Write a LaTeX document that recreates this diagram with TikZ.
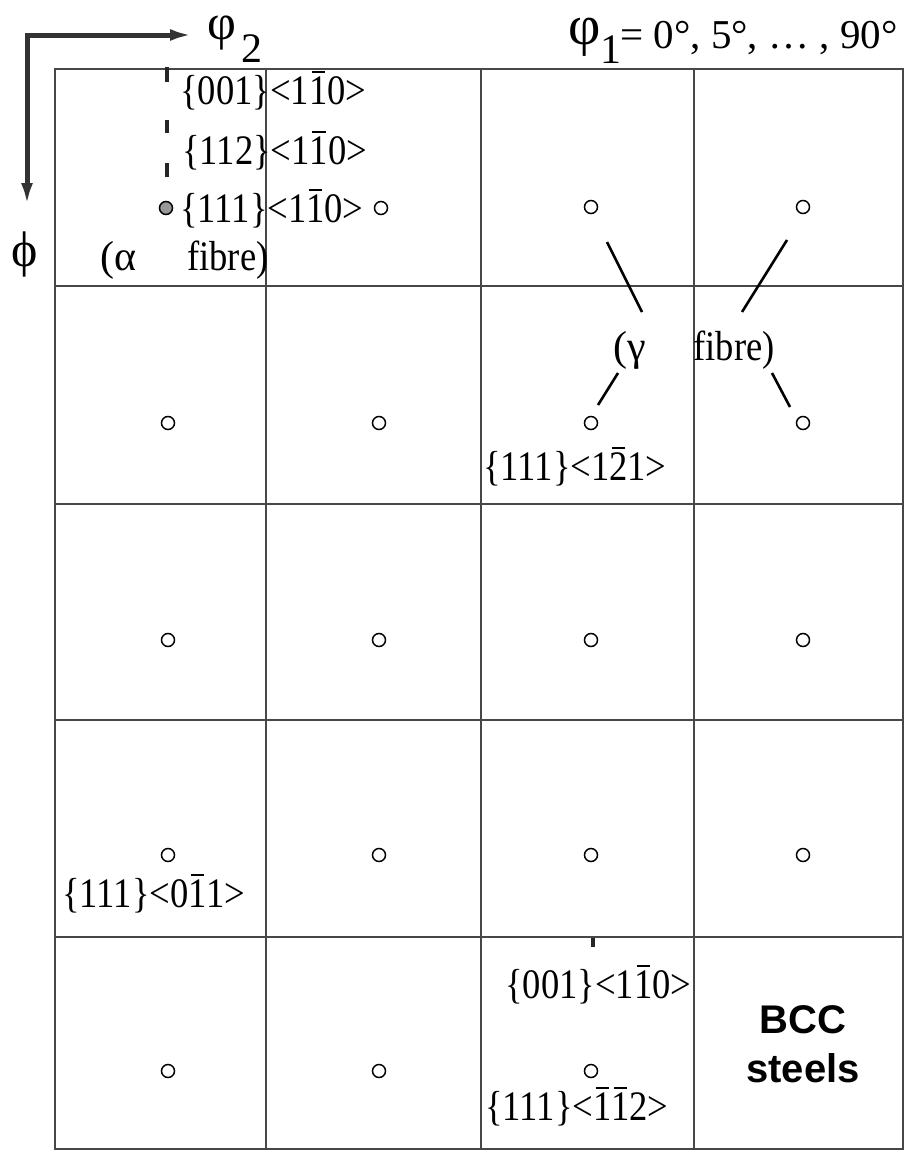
\documentclass[tikz,border=0pt]{standalone}
\usepackage{fontspec}
\setmainfont{Liberation Serif}
\newfontfamily\labfont[FakeStretch=0.87]{Liberation Serif}
\newfontfamily\bccfont{Liberation Sans}
\usetikzlibrary{arrows.meta}
\newcommand\ob[1]{\ooalign{#1\cr\hidewidth\rule[0.74em]{0.32em}{0.05em}\hidewidth\cr}}
\tikzset{
 lab/.style={anchor=base west, inner sep=0pt, font=\labfont\fontsize{21}{25}\selectfont},
 dot/.style={circle, draw, line width=0.75pt, minimum size=6.5pt, inner sep=0pt},
 gridline/.style={draw=black!72, line width=1pt},
 fibreline/.style={line width=1.3pt},
 axisline/.style={draw=black!80, line width=2.5pt, line cap=rect, -{Latex[length=11pt,width=6pt]}},
 dashseg/.style={line width=1.6pt, draw=black!85},
}
\begin{document}
\begin{tikzpicture}[x=0.5pt,y=-0.5pt]
\useasboundingbox (0,0) rectangle (906,1151);
% grid
\draw[gridline] (55,69) rectangle (903,1149);
\foreach \xx in {266,481,694} \draw[gridline] (\xx,69) -- (\xx,1149);
\foreach \yy in {286,504,720,937} \draw[gridline] (55,\yy) -- (903,\yy);
% axes
\coordinate (o) at (27,35);
\coordinate (xe) at (192,35);
\coordinate (ye) at (27,205);
\draw[axisline] (o) -- (xe);
\draw[axisline] (o) -- (ye);
\node[inner sep=0pt, font=\fontsize{25}{29}\selectfont] (phi2) at (222,33) {φ};
\node[inner sep=0pt, anchor=base, font=\fontsize{21}{25}\selectfont] (phi2s) at (252,62) {2};
\node[inner sep=0pt, font=\fontsize{25}{29}\selectfont] (phi) at (25,254) {ϕ};
\node[inner sep=0pt, font=\fontsize{28}{32}\selectfont] (phi1) at (585,37) {φ};
\node[inner sep=0pt, anchor=base, font=\fontsize{21}{25}\selectfont] (phi1s) at (611,63) {1};
\node[inner sep=0pt, anchor=base east, font=\fontsize{20.5}{24}\selectfont] (range) at (898,48) {= 0°, 5°, … , 90°};
% dashed alpha line
\coordinate (d1a) at (167,67); \coordinate (d1b) at (167,82);
\coordinate (d2a) at (167,120); \coordinate (d2b) at (167,133);
\coordinate (d3a) at (167,163); \coordinate (d3b) at (167,177);
\draw[dashseg] (d1a) -- (d1b);
\draw[dashseg] (d2a) -- (d2b);
\draw[dashseg] (d3a) -- (d3b);
\coordinate (m1) at (593,938); \coordinate (m2) at (593,947);
\draw[dashseg] (m1) -- (m2);
% circles
\node[dot, fill=black!40] (c11) at (166,208) {};
\node[dot] (c12) at (381,208) {};
\node[dot] (c13) at (591,207) {};
\node[dot] (c14) at (803,207) {};
\node[dot] (c21) at (168,423) {};
\node[dot] (c22) at (379,423) {};
\node[dot] (c23) at (591,423) {};
\node[dot] (c24) at (803,423) {};
\node[dot] (c31) at (168,640) {};
\node[dot] (c32) at (379,640) {};
\node[dot] (c33) at (591,640) {};
\node[dot] (c34) at (803,640) {};
\node[dot] (c41) at (168,855) {};
\node[dot] (c42) at (379,855) {};
\node[dot] (c43) at (591,855) {};
\node[dot] (c44) at (803,855) {};
\node[dot] (c51) at (168,1071) {};
\node[dot] (c52) at (379,1071) {};
\node[dot] (c53) at (591,1071) {};
% labels
\node[lab] (l1) at (180,104) {\{001\}<1\ob{1}0>};
\node[lab] (l2) at (182,164) {\{112\}<1\ob{1}0>};
\node[lab] (l3) at (180,222) {\{111\}<1\ob{1}0>};
\node[lab, font=\fontsize{21}{25}\selectfont] (a1) at (100,270) {(α};
\node[lab] (a2) at (187,270) {fibre)};
\node[lab, font=\fontsize{21}{25}\selectfont] (g1) at (613,360) {(γ};
\node[lab] (g2) at (693,360) {fibre)};
\node[lab] (l4) at (483,480) {\{111\}<1\ob{2}1>};
\node[lab] (l5) at (62,907) {\{111\}<0\ob{1}1>};
\node[lab] (l6) at (505,998) {\{001\}<1\ob{1}0>};
\node[lab] (l7) at (485,1120) {\{111\}<\ob{1}\ob{1}2>};
% gamma fibre lines
\coordinate (ga1) at (607,242); \coordinate (ga2) at (642,312);
\coordinate (gb1) at (787,240); \coordinate (gb2) at (742,312);
\coordinate (gc1) at (618,373); \coordinate (gc2) at (598,405);
\coordinate (gd1) at (772,373); \coordinate (gd2) at (790,407);
\draw[fibreline] (ga1) -- (ga2);
\draw[fibreline] (gb1) -- (gb2);
\draw[fibreline] (gc1) -- (gc2);
\draw[fibreline] (gd1) -- (gd2);
% BCC steels
\node[inner sep=0pt, anchor=base, font=\bccfont\bfseries\fontsize{20}{24}\selectfont] (bcc1) at (803,1033) {BCC};
\node[inner sep=0pt, anchor=base, font=\bccfont\bfseries\fontsize{20}{24}\selectfont] (bcc2) at (803,1082) {steels};
\end{tikzpicture}
\end{document}
